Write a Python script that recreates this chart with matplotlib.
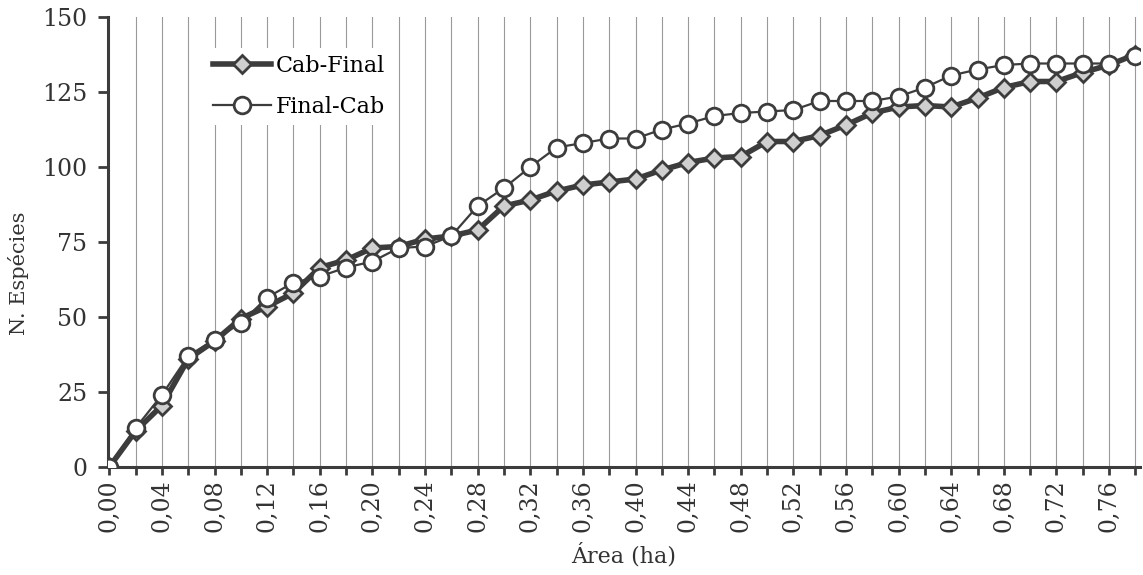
import matplotlib
matplotlib.use("Agg")
import matplotlib.pyplot as plt
from matplotlib.ticker import FixedLocator, FuncFormatter

area = [0.00, 0.02, 0.04, 0.06, 0.08, 0.10, 0.12, 0.14, 0.16, 0.18,
        0.20, 0.22, 0.24, 0.26, 0.28, 0.30, 0.32, 0.34, 0.36, 0.38,
        0.40, 0.42, 0.44, 0.46, 0.48, 0.50, 0.52, 0.54, 0.56, 0.58,
        0.60, 0.62, 0.64, 0.66, 0.68, 0.70, 0.72, 0.74, 0.76, 0.78]
cab_final = [0, 12, 20.5, 36, 42, 49.5, 53.5, 58, 66.5, 69,
             73, 73.5, 76, 77, 79, 87, 89, 92, 94, 95,
             96, 99, 101.5, 103, 103.5, 108.5, 108.5, 110.5, 114, 118,
             120, 120.5, 120, 123, 126.5, 128.5, 128.5, 131.5, 134, 137.5]
final_cab = [0, 13, 24, 37, 42.5, 48, 56.5, 61.5, 63.5, 66.5,
             68.5, 73, 73.5, 77, 87, 93, 100, 106.5, 108, 109.5,
             109.5, 112.5, 114.5, 117, 118, 118.5, 119, 122, 122, 122,
             123.5, 126.5, 130.5, 132.5, 134, 134.5, 134.5, 134.5, 134.5, 137]
y_ticks = [0, 25, 50, 75, 100, 125, 150]
x_label_ticks = [0.00, 0.04, 0.08, 0.12, 0.16, 0.20, 0.24, 0.28, 0.32, 0.36,
                 0.40, 0.44, 0.48, 0.52, 0.56, 0.60, 0.64, 0.68, 0.72, 0.76]
series_names = ["Cab-Final", "Final-Cab"]

plt.rcParams['font.family'] = ['DejaVu Serif']
dark = '#3c3c3c'
txt = '#333333'

fig = plt.figure(figsize=(11.43, 5.75), dpi=100)
ax = fig.add_axes([108/1143, 108/575, (1140-108)/1143, (467-17)/575])

ax.plot(area, cab_final, color=dark, lw=4.0, marker='D', ms=9,
        mfc='#cfcfcf', mec=dark, mew=2.0, label=series_names[0], zorder=3)
ax.plot(area, final_cab, color=dark, lw=1.6, marker='o', ms=12,
        mfc='white', mec=dark, mew=2.0, label=series_names[1], zorder=4)

ax.set_xlim(-0.001, 0.7835)
ax.set_ylim(0, 150)

for xv in area[1:]:
    ax.axvline(xv, color='#9a9a9a', lw=0.8, zorder=1)

ax.yaxis.set_major_locator(FixedLocator(y_ticks))
ax.xaxis.set_major_locator(FixedLocator(x_label_ticks))
ax.xaxis.set_minor_locator(FixedLocator(area))
ax.xaxis.set_major_formatter(FuncFormatter(lambda v, p: f"{v:.2f}".replace('.', ',')))

for s in ['top', 'right']:
    ax.spines[s].set_visible(False)
for s in ['left', 'bottom']:
    ax.spines[s].set_color(dark)
    ax.spines[s].set_linewidth(2.2)

ax.tick_params(axis='y', direction='out', length=7, width=2, color=dark,
               labelsize=17, labelcolor=txt, pad=8)
ax.tick_params(axis='x', which='both', direction='out', length=6, width=2,
               color=dark, labelsize=17, labelcolor=txt, pad=3,
               labelrotation=90)

ax.set_ylabel("N. Espécies", fontsize=15, color=txt, va='center')
ax.yaxis.set_label_coords(-0.087, 0.43)
ax.set_xlabel("Área (ha)", fontsize=16, color=txt, labelpad=8)

leg = ax.legend(loc='upper left', bbox_to_anchor=(0.085, 0.955), frameon=True,
                fontsize=16, handlelength=2.6, handletextpad=0.2,
                labelspacing=0.85, borderpad=0.3, fancybox=False)
leg.get_frame().set_facecolor('white')
leg.get_frame().set_edgecolor('none')
leg.get_frame().set_alpha(1)
leg.set_zorder(10)

fig.savefig("out.png", dpi=100)
